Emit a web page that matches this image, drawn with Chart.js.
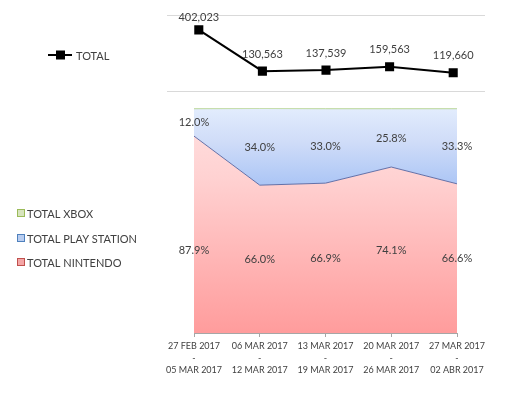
<!DOCTYPE html>
<html>
<head>
<meta charset="utf-8">
<script src="https://cdn.jsdelivr.net/npm/chart.js@4.4.0/dist/chart.umd.min.js"></script>
<style>
  html, body { margin: 0; padding: 0; background: #fff; }
  #wrap { position: relative; width: 509px; height: 408px; overflow: hidden; }
  #totalChart { position: absolute; left: 0; top: 0; }
  #shareChart { position: absolute; left: 0; top: 100px; }
</style>
</head>
<body>
<div id="wrap">
  <canvas id="totalChart" width="509" height="100"></canvas>
  <canvas id="shareChart" width="509" height="308"></canvas>
</div>
<script>
// data
const weeks = [
  ['27 FEB 2017', '-', '05 MAR 2017'],
  ['06 MAR 2017', '-', '12 MAR 2017'],
  ['13 MAR 2017', '-', '19 MAR 2017'],
  ['20 MAR 2017', '-', '26 MAR 2017'],
  ['27 MAR 2017', '-', '02 ABR 2017']
];
const totals = [402023, 130563, 137539, 159563, 119660];
const nintendo = [87.9, 66.0, 66.9, 74.1, 66.6];
const playStation = [12.0, 34.0, 33.0, 25.8, 33.3];
const xbox = [0.1, 0.0, 0.1, 0.1, 0.1];

const FONT = 'Lato, "Liberation Sans", sans-serif';
const TEXT = '#404040';

// draws a small legend block at the left of a chart
function legendPlugin(items) {
  return {
    id: 'sideLegend',
    afterDraw(chart) {
      const c = chart.ctx;
      c.save();
      c.font = '11px ' + FONT;
      c.textBaseline = 'middle';
      items.forEach(it => {
        if (it.type === 'line') {
          c.strokeStyle = '#000';
          c.lineWidth = 2;
          c.beginPath();
          c.moveTo(it.x, it.y);
          c.lineTo(it.x + 24, it.y);
          c.stroke();
          c.fillStyle = '#000';
          c.fillRect(it.x + 8, it.y - 4.5, 9, 9);
          c.fillStyle = TEXT;
          c.fillText(it.label, it.x + 28, it.y + 1);
        } else {
          c.fillStyle = it.fill;
          c.fillRect(it.x, it.y - 4, 8, 8);
          c.strokeStyle = it.stroke;
          c.lineWidth = 1;
          c.strokeRect(it.x + 0.5, it.y - 3.5, 7, 7);
          c.fillStyle = TEXT;
          c.fillText(it.label, it.x + 10, it.y + 1);
        }
      });
      c.restore();
    }
  };
}

// ---------- top chart: total ----------
const totalLabels = {
  id: 'totalLabels',
  afterDatasetsDraw(chart) {
    const c = chart.ctx;
    const meta = chart.getDatasetMeta(0);
    c.save();
    c.font = '11px ' + FONT;
    c.fillStyle = TEXT;
    c.textAlign = 'center';
    c.textBaseline = 'middle';
    meta.data.forEach((pt, i) => {
      const y = Math.max(pt.y - 17, 17);
      c.fillText(totals[i].toLocaleString('en-US'), pt.x, y);
    });
    c.restore();
  }
};

new Chart(document.getElementById('totalChart'), {
  type: 'line',
  data: {
    labels: weeks.map(w => w.join(' ')),
    datasets: [{
      label: 'TOTAL',
      data: totals,
      borderColor: '#000',
      borderWidth: 2,
      pointStyle: 'rect',
      pointRadius: 5,
      pointBackgroundColor: '#000',
      pointBorderColor: '#000',
      tension: 0
    }]
  },
  options: {
    responsive: false,
    animation: false,
    layout: { padding: { left: 167, right: 24, top: 15, bottom: 9 } },
    plugins: { legend: { display: false }, tooltip: { enabled: false } },
    scales: {
      x: { display: false, offset: true },
      y: {
        min: 0,
        max: 500000,
        ticks: { display: false, stepSize: 500000 },
        grid: { color: '#d9d9d9', drawTicks: false },
        border: { display: false },
        afterFit: s => { s.width = 0; }
      }
    }
  },
  plugins: [totalLabels, legendPlugin([{ type: 'line', x: 48, y: 55, label: 'TOTAL' }])]
});

// ---------- bottom chart: 100% stacked area ----------
function vGrad(chart, stops) {
  const a = chart.chartArea;
  if (!a) return stops[0][1];
  const g = chart.ctx.createLinearGradient(0, a.top, 0, a.bottom);
  stops.forEach(s => g.addColorStop(s[0], s[1]));
  return g;
}

const shareLabels = {
  id: 'shareLabels',
  afterDatasetsDraw(chart) {
    const c = chart.ctx;
    const y = chart.scales.y;
    const x = chart.scales.x;
    c.save();
    c.font = '11px ' + FONT;
    c.fillStyle = TEXT;
    c.textAlign = 'center';
    c.textBaseline = 'middle';
    nintendo.forEach((v, i) => {
      const px = x.getPixelForValue(i);
      // Nintendo labels sit a bit below the middle of their band
      const midN = Math.max(y.getPixelForValue(v / 2), y.getPixelForValue(37));
      const midP = y.getPixelForValue(v + playStation[i] / 2);
      c.fillText(v.toFixed(1) + '%', px, midN);
      c.fillText(playStation[i].toFixed(1) + '%', px, midP);
    });
    c.restore();
  }
};

new Chart(document.getElementById('shareChart'), {
  type: 'line',
  data: {
    labels: weeks,
    datasets: [
      {
        label: 'TOTAL NINTENDO',
        data: nintendo,
        fill: 'origin',
        borderColor: '#6270a8',
        borderWidth: 1,
        backgroundColor: ctx => vGrad(ctx.chart, [[0, '#ffe0e0'], [0.3, '#ffd2d2'], [1, '#ff9c9c']]),
        pointRadius: 0,
        tension: 0
      },
      {
        label: 'TOTAL PLAY STATION',
        data: playStation,
        fill: '-1',
        borderWidth: 0,
        borderColor: 'rgba(0,0,0,0)',
        backgroundColor: ctx => vGrad(ctx.chart, [[0, '#e2ecfd'], [0.15, '#cfdcf8'], [0.35, '#a9c4f5'], [1, '#a9c4f5']]),
        pointRadius: 0,
        tension: 0
      },
      {
        label: 'TOTAL XBOX',
        data: xbox,
        fill: '-1',
        borderColor: '#8fbc5a',
        borderWidth: 1,
        backgroundColor: '#d7e4bd',
        pointRadius: 0,
        tension: 0
      }
    ]
  },
  options: {
    responsive: false,
    animation: false,
    clip: false,
    layout: { padding: { left: 194, right: 52, top: 9, bottom: 30 } },
    plugins: { legend: { display: false }, tooltip: { enabled: false } },
    scales: {
      x: {
        offset: false,
        grid: { display: true, drawOnChartArea: false, tickLength: 4, color: '#a6a6a6' },
        border: { color: '#a6a6a6' },
        ticks: {
          color: '#404040',
          font: { family: FONT, size: 9, lineHeight: 1.33 },
          maxRotation: 0,
          autoSkip: false,
          padding: 3
        },
        afterFit: s => { s.height = 45; }
      },
      y: { display: false, stacked: true, min: 0, max: 100 }
    }
  },
  plugins: [shareLabels, legendPlugin([
    { type: 'box', x: 17, y: 113, label: 'TOTAL XBOX', fill: '#d7e4bd', stroke: '#9bbb59' },
    { type: 'box', x: 17, y: 138, label: 'TOTAL PLAY STATION', fill: '#b9cdf0', stroke: '#4f81bd' },
    { type: 'box', x: 17, y: 162, label: 'TOTAL NINTENDO', fill: '#f4a6a6', stroke: '#c0504d' }
  ])]
});
</script>
</body>
</html>
